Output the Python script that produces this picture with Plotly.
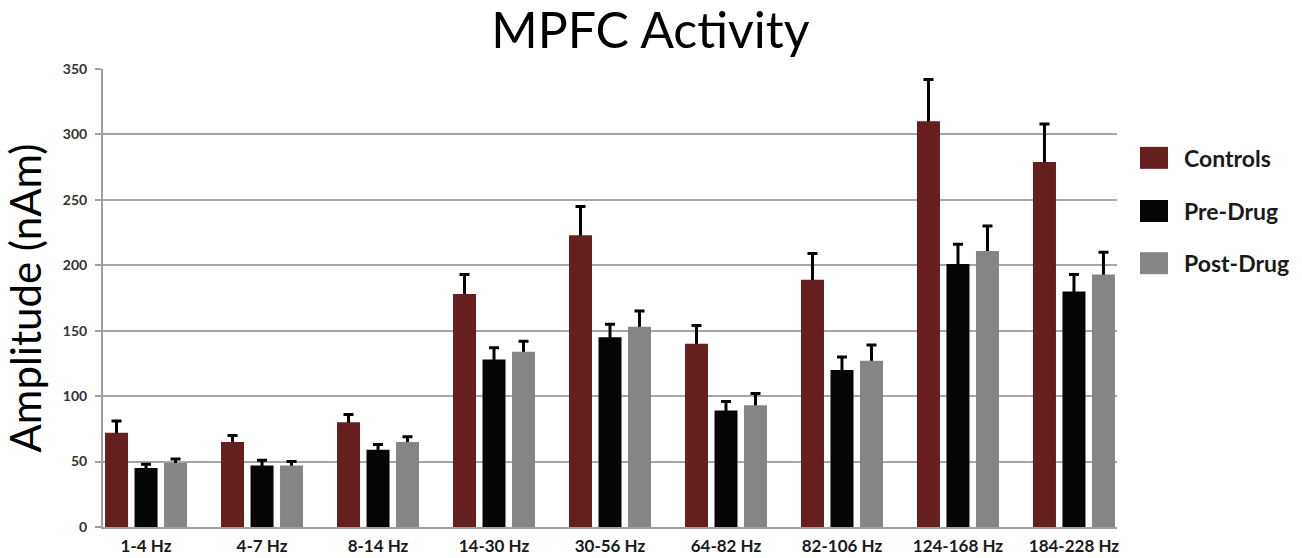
import plotly.graph_objects as go

# Frequency bands and mean amplitudes (nAm) with standard errors
categories = ["1-4 Hz", "4-7 Hz", "8-14 Hz", "14-30 Hz", "30-56 Hz",
              "64-82 Hz", "82-106 Hz", "124-168 Hz", "184-228 Hz"]
series_names = ["Controls", "Pre-Drug", "Post-Drug"]
controls = [72, 65, 80, 178, 223, 140, 189, 310, 279]
controls_err = [9, 5, 6, 15, 22, 14, 20, 32, 29]
pre_drug = [45, 47, 59, 128, 145, 89, 120, 201, 180]
pre_drug_err = [3, 4, 4, 9, 10, 7, 10, 15, 13]
post_drug = [49, 47, 65, 134, 153, 93, 127, 211, 193]
post_drug_err = [3, 3, 4, 8, 12, 9, 12, 19, 17]
y_ticks = [0, 50, 100, 150, 200, 250, 300, 350]

colors = ["#651f1f", "#050505", "#858585"]
values = [controls, pre_drug, post_drug]
errors = [controls_err, pre_drug_err, post_drug_err]

fig = go.Figure()

# Transparent carriers hold the upward error bars; the solid bars drawn
# afterwards in the same offset group hide the lower half of each bar.
for i, (name, v, e) in enumerate(zip(series_names, values, errors)):
    fig.add_trace(go.Bar(
        x=categories, y=v, name=name + " SE", offsetgroup=str(i),
        marker=dict(color="rgba(0,0,0,0)", line=dict(width=0)),
        error_y=dict(type="data", array=e, symmetric=True,
                     color="#000000", thickness=3, width=5),
        showlegend=False, hoverinfo="skip",
    ))
for i, (name, v) in enumerate(zip(series_names, values)):
    fig.add_trace(go.Bar(
        x=categories, y=v, name=name, offsetgroup=str(i),
        marker=dict(color=colors[i], line=dict(width=0)),
        showlegend=False,
    ))

# Legend drawn as large swatches with bold labels
legend_y = [0.806, 0.690, 0.576]
for name, col, ly in zip(series_names, colors, legend_y):
    fig.add_shape(type="rect", xref="paper", yref="paper",
                  x0=1.0227, x1=1.0503, y0=ly - 0.024, y1=ly + 0.024,
                  fillcolor=col, line=dict(width=0))
    fig.add_annotation(xref="paper", yref="paper", x=1.0640, y=ly,
                       text="<b>%s</b>" % name, showarrow=False,
                       xanchor="left", yanchor="middle",
                       font=dict(family="Lato", size=23, color="#1a1a1a"))

fig.update_layout(
    width=1302, height=558,
    margin=dict(l=103, r=185, t=69, b=31),
    paper_bgcolor="white", plot_bgcolor="white",
    barmode="group", bargap=0.237, bargroupgap=0.22,
    title=dict(text="MPFC Activity", x=0.4995, xanchor="center",
               y=0.945, yanchor="middle",
               font=dict(family="Lato", size=50, color="#000000")),
    font=dict(family="Lato"),
)

fig.update_xaxes(
    type="category", range=[-0.371, 8.371], automargin=False,
    showline=True, linecolor="#a0a0a0", linewidth=2,
    ticks="", showgrid=False,
    tickfont=dict(family="Lato", size=17, color="#1a1a1a", weight="bold"),
    ticklabelstandoff=3,
)
fig.update_yaxes(
    range=[0, 350], tickvals=y_ticks, automargin=False,
    showline=True, linecolor="#a0a0a0", linewidth=2,
    ticks="outside", ticklen=6, tickcolor="#a0a0a0", tickwidth=2,
    showgrid=True, gridcolor="#a6a6a6", gridwidth=2,
    zeroline=False,
    tickfont=dict(family="Lato", size=14, color="#333333", weight="bold"),
    ticklabelstandoff=5,
    title=dict(text="Amplitude (nAm)", standoff=8,
               font=dict(family="Lato", size=42, color="#000000")),
)

fig.write_html("out.html")
